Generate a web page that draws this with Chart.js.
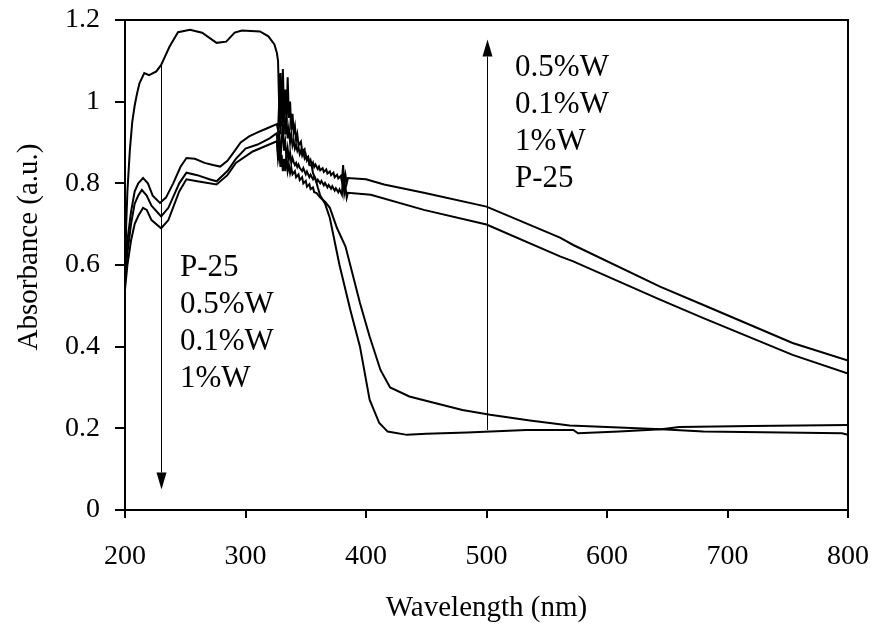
<!DOCTYPE html>
<html>
<head>
<meta charset="utf-8">
<script src="https://cdn.jsdelivr.net/npm/chart.js@4/dist/chart.umd.min.js"></script>
<style>
  html, body { margin: 0; padding: 0; background: #fff; }
  #wrap { width: 876px; height: 626px; }
</style>
</head>
<body>
<div id="wrap"><canvas id="absChart" width="876" height="626"></canvas></div>
<script>
// wavelength (nm) / absorbance (a.u.)
const wlP25 = [200, 201, 202, 204, 206, 208, 210, 212, 216, 220, 226, 230, 237, 244, 254, 264, 276, 284, 291, 297, 312, 319, 324,
  326, 327, 328, 329, 330, 331, 332, 333, 334, 335, 336, 337, 338, 339, 340, 341, 342, 343, 344, 346, 347, 349, 350, 352, 353, 355, 356, 358,
  360, 362, 366, 370, 378, 387, 395, 403, 411, 418, 434, 450, 484, 533, 572, 576, 610, 645, 660, 720, 800];
const absP25 = [0.55, 0.70, 0.78, 0.88, 0.95, 0.99, 1.02, 1.045, 1.07, 1.065, 1.074, 1.09, 1.135, 1.17, 1.176, 1.169, 1.144, 1.147, 1.169, 1.174, 1.172, 1.16, 1.14,
  1.12, 1.10, 0.98, 1.07, 0.94, 1.08, 0.97, 1.03, 0.95, 1.06, 0.96, 1.0, 0.93, 0.97, 0.925, 0.94, 0.905, 0.92, 0.893, 0.902, 0.878, 0.884, 0.862, 0.866, 0.845, 0.843, 0.825, 0.812,
  0.79, 0.77, 0.75, 0.715, 0.60, 0.49, 0.40, 0.27, 0.213, 0.192, 0.184, 0.187, 0.19, 0.196, 0.196, 0.188, 0.192, 0.198, 0.203, 0.206, 0.208];

const wl05W = [200, 202, 205, 208, 211, 215, 219, 223, 229, 234, 240, 246, 251, 258, 266, 273, 279, 285, 290, 296, 303, 310, 318, 326,
  327, 328, 329, 330, 331, 332, 333, 334, 335, 336, 337, 338, 339, 340, 341, 342, 343, 344, 345, 346, 347, 348, 349, 350, 351, 352, 353, 354,
  355, 356, 357, 358, 360, 361, 362, 364, 365, 367, 368, 370, 371, 373, 374, 376, 377, 379, 380, 381, 382, 383, 384, 385,
  400, 415, 448, 500, 561, 572, 644, 680, 754, 800];
const abs05W = [0.60, 0.66, 0.73, 0.78, 0.80, 0.813, 0.80, 0.77, 0.752, 0.765, 0.80, 0.84, 0.862, 0.86, 0.85, 0.845, 0.841, 0.855, 0.875, 0.90, 0.915, 0.925, 0.935, 0.945,
  0.93, 1.0, 0.92, 1.04, 0.95, 0.99, 0.92, 0.96, 0.91, 0.935, 0.90, 0.92, 0.893, 0.905, 0.885, 0.893, 0.88, 0.888, 0.872, 0.88, 0.868, 0.876, 0.862, 0.87, 0.856, 0.862, 0.85, 0.857,
  0.845, 0.851, 0.84, 0.846, 0.835, 0.841, 0.832, 0.837, 0.828, 0.834, 0.824, 0.829, 0.82, 0.826, 0.815, 0.821, 0.812, 0.818, 0.805, 0.845, 0.80, 0.82, 0.80, 0.813,
  0.81, 0.797, 0.777, 0.743, 0.667, 0.649, 0.547, 0.502, 0.409, 0.366];

const wl01W = [200, 202, 205, 208, 211, 214, 218, 222, 230, 236, 245, 251, 260, 270, 276, 285, 292, 300, 310, 320, 326,
  327, 328, 329, 330, 331, 332, 333, 334, 335, 336, 337, 338, 339, 340, 341, 342, 343, 344, 345, 347, 348, 350, 351, 353, 354, 356, 357, 359,
  360, 362, 363, 365, 366, 368, 369, 371, 372, 374, 375, 377, 378, 380, 381, 382, 383, 384, 385,
  404, 448, 500, 561, 572, 644, 680, 754, 800];
const abs01W = [0.57, 0.63, 0.70, 0.75, 0.77, 0.784, 0.77, 0.745, 0.719, 0.74, 0.80, 0.826, 0.82, 0.81, 0.805, 0.83, 0.86, 0.885, 0.895, 0.91, 0.923,
  0.87, 0.93, 0.86, 0.90, 0.95, 0.88, 0.90, 0.86, 0.885, 0.86, 0.875, 0.85, 0.862, 0.852, 0.845, 0.85, 0.84, 0.846, 0.838, 0.83, 0.837, 0.822, 0.829, 0.815, 0.821, 0.81, 0.816, 0.803,
  0.809, 0.80, 0.806, 0.795, 0.801, 0.79, 0.796, 0.787, 0.793, 0.782, 0.788, 0.778, 0.785, 0.772, 0.82, 0.775, 0.79, 0.765, 0.777,
  0.772, 0.735, 0.699, 0.621, 0.609, 0.515, 0.47, 0.38, 0.334];

const wl1W = [200, 202, 205, 208, 211, 215, 218, 222, 230, 236, 245, 251, 260, 276, 285, 292, 306, 326,
  327, 328, 329, 330, 331, 332, 333, 334, 335, 336, 337, 338, 339, 341, 342, 344, 345, 347, 348, 350, 351, 353, 354, 356, 357, 359,
  362, 366, 370, 376, 383, 395, 403, 412, 420, 436, 453, 480, 503, 536, 569, 610, 645, 680, 795, 800];
const abs1W = [0.54, 0.60, 0.66, 0.70, 0.72, 0.74, 0.735, 0.71, 0.69, 0.71, 0.78, 0.81, 0.805, 0.797, 0.82, 0.85, 0.878, 0.903,
  0.86, 0.88, 0.84, 0.87, 0.83, 0.86, 0.83, 0.87, 0.83, 0.845, 0.825, 0.838, 0.822, 0.83, 0.815, 0.822, 0.808, 0.815, 0.80, 0.806, 0.792, 0.798, 0.786, 0.79, 0.778, 0.776,
  0.765, 0.755, 0.74, 0.69, 0.645, 0.507, 0.425, 0.343, 0.30, 0.278, 0.265, 0.245, 0.233, 0.219, 0.207, 0.202, 0.198, 0.192, 0.188, 0.184];

const xTickStep = 100;
const yTickStep = 0.2;

// arrows: x position (nm), start and tip (absorbance)
const arrowX = [230, 500];
const arrowFrom = [1.09, 0.196];
const arrowTo = [0.05, 1.152];

// annotation blocks next to the arrows
const leftNote = ['P-25', '0.5%W', '0.1%W', '1%W'];
const rightNote = ['0.5%W', '0.1%W', '1%W', 'P-25'];
const noteX = [245.6, 523.7];
const noteTopY = [0.594, 1.083];

const yTitle = 'Absorbance (a.u.)';

const serif = "'Liberation Serif', 'Times New Roman', serif";

function pts(xs, ys) {
  return xs.map((x, i) => ({ x: x, y: ys[i] }));
}

function series(label, xs, ys) {
  return {
    label: label,
    data: pts(xs, ys),
    showLine: true,
    borderColor: '#000',
    borderWidth: 2,
    pointRadius: 0,
    tension: 0,
    fill: false
  };
}

const notesPlugin = {
  id: 'notes',
  afterDatasetsDraw(chart) {
    const { ctx, chartArea: a, scales: { x, y } } = chart;
    ctx.save();
    ctx.strokeStyle = '#000';
    ctx.fillStyle = '#000';

    // frame round the plot
    ctx.lineWidth = 2;
    ctx.strokeRect(a.left, a.top, a.right - a.left, a.bottom - a.top);

    // arrows
    ctx.lineWidth = 1;
    arrowX.forEach((xv, i) => {
      const px = Math.round(x.getPixelForValue(xv)) + 0.5;
      const y0 = y.getPixelForValue(arrowFrom[i]);
      const y1 = y.getPixelForValue(arrowTo[i]);
      const dir = y1 > y0 ? 1 : -1;
      const headLen = 17, headHalf = 5;
      ctx.beginPath();
      ctx.moveTo(px, y0);
      ctx.lineTo(px, y1 - dir * headLen);
      ctx.stroke();
      ctx.beginPath();
      ctx.moveTo(px, y1);
      ctx.lineTo(px - headHalf, y1 - dir * headLen);
      ctx.lineTo(px + headHalf, y1 - dir * headLen);
      ctx.closePath();
      ctx.fill();
    });

    // labels
    ctx.font = '31px ' + serif;
    ctx.textAlign = 'left';
    ctx.textBaseline = 'middle';
    const lineGap = 37;
    [leftNote, rightNote].forEach((lines, i) => {
      const px = x.getPixelForValue(noteX[i]);
      const py = y.getPixelForValue(noteTopY[i]);
      lines.forEach((t, k) => ctx.fillText(t, px, py + k * lineGap));
    });

    // y axis title, sits a little above the middle of the axis
    ctx.save();
    ctx.translate(29, 247);
    ctx.rotate(-Math.PI / 2);
    ctx.font = '29px ' + serif;
    ctx.textAlign = 'center';
    ctx.fillText(yTitle, 0, 0);
    ctx.restore();

    ctx.restore();
  }
};

new Chart(document.getElementById('absChart'), {
  type: 'scatter',
  data: {
    datasets: [
      series('P-25', wlP25, absP25),
      series('0.5%W', wl05W, abs05W),
      series('0.1%W', wl01W, abs01W),
      series('1%W', wl1W, abs1W)
    ]
  },
  options: {
    responsive: false,
    animation: false,
    devicePixelRatio: 1,
    layout: { padding: { top: 20, right: 28, left: 0, bottom: 0 } },
    plugins: {
      legend: { display: false },
      tooltip: { enabled: false }
    },
    scales: {
      x: {
        type: 'linear',
        min: 200,
        max: 800,
        afterFit(s) { s.height = 116; s.paddingLeft = 0; s.paddingRight = 0; },
        ticks: { stepSize: xTickStep, color: '#000', padding: 22, maxRotation: 0, font: { family: serif, size: 28 } },
        grid: { drawOnChartArea: false, drawTicks: true, tickLength: 8, color: '#000', lineWidth: 2 },
        border: { display: true, color: '#000', width: 2 },
        title: { display: true, text: 'Wavelength (nm)', color: '#000', padding: { top: 0, bottom: 0 }, font: { family: serif, size: 29 } }
      },
      y: {
        min: 0,
        max: 1.2,
        afterFit(s) { s.width = 125; s.paddingTop = 0; s.paddingBottom = 0; },
        ticks: {
          stepSize: yTickStep, color: '#000', padding: 15, font: { family: serif, size: 28 },
          callback: v => String(Math.round(v * 10) / 10)
        },
        grid: { drawOnChartArea: false, drawTicks: true, tickLength: 10, color: '#000', lineWidth: 2 },
        border: { display: true, color: '#000', width: 2 },
        title: { display: false }
      }
    }
  },
  plugins: [notesPlugin]
});
</script>
</body>
</html>
